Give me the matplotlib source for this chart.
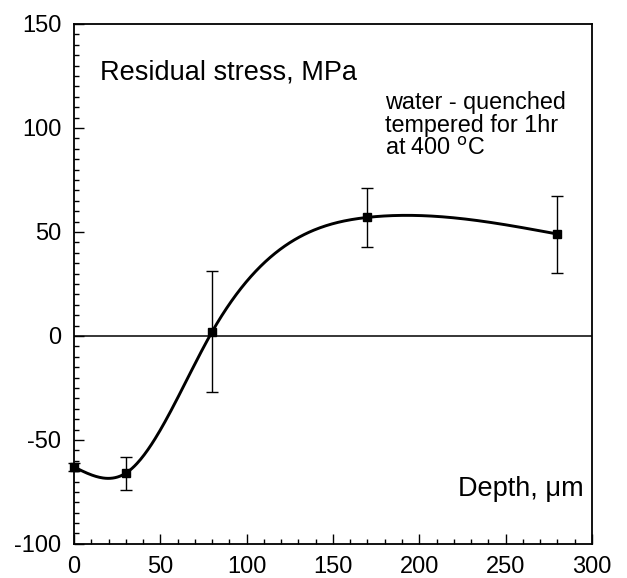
import numpy as np
import matplotlib
matplotlib.use("Agg")
import matplotlib.pyplot as plt
from matplotlib.ticker import MultipleLocator

# residual stress profile after quenching + tempering
depth = [0, 30, 80, 170, 280]
stress = [-63, -66, 2, 57, 49]
stress_err = [2, 8, 29, 14, 18.5]

x_ticks = [0, 50, 100, 150, 200, 250, 300]
y_ticks = [-100, -50, 0, 50, 100, 150]

plt.rcParams['font.family'] = ['Liberation Sans', 'DejaVu Sans']
plt.rcParams['axes.unicode_minus'] = False


def natural_spline(x, y, n=400):
    # natural cubic spline through the measured points
    x = np.asarray(x, float)
    y = np.asarray(y, float)
    k = len(x)
    h = np.diff(x)
    A = np.zeros((k, k))
    b = np.zeros(k)
    A[0, 0] = A[-1, -1] = 1.0
    for i in range(1, k - 1):
        A[i, i - 1] = h[i - 1]
        A[i, i] = 2 * (h[i - 1] + h[i])
        A[i, i + 1] = h[i]
        b[i] = 6 * ((y[i + 1] - y[i]) / h[i] - (y[i] - y[i - 1]) / h[i - 1])
    m = np.linalg.solve(A, b)
    xs = np.linspace(x[0], x[-1], n)
    idx = np.clip(np.searchsorted(x, xs) - 1, 0, k - 2)
    t0 = x[idx]
    t1 = x[idx + 1]
    hh = h[idx]
    ys = (m[idx] * (t1 - xs) ** 3 / (6 * hh) + m[idx + 1] * (xs - t0) ** 3 / (6 * hh)
          + (y[idx] / hh - m[idx] * hh / 6) * (t1 - xs)
          + (y[idx + 1] / hh - m[idx + 1] * hh / 6) * (xs - t0))
    return xs, ys


fig = plt.figure(figsize=(6.27, 5.78), dpi=100)
ax = fig.add_axes([0.118, 0.059, 0.826, 0.8995])

xs, ys = natural_spline(depth, stress)
ax.plot(xs, ys, color='black', lw=2.1, zorder=3)
ax.errorbar(depth, stress, yerr=stress_err, fmt='s', color='black', ms=6,
            elinewidth=1.0, capsize=4.5, capthick=1.0, zorder=4, clip_on=False)
ax.axhline(0, color='black', lw=1.1, zorder=2)

ax.set_xlim(0, 300)
ax.set_ylim(-100, 150)
ax.set_xticks(x_ticks)
ax.set_yticks(y_ticks)
ax.xaxis.set_minor_locator(MultipleLocator(10))
ax.yaxis.set_minor_locator(MultipleLocator(5))
ax.tick_params(which='both', direction='in', top=False, right=False,
               labelsize=17, width=1.0)
ax.tick_params(which='major', length=7)
ax.tick_params(which='minor', length=3.5)
ax.tick_params(axis='x', which='major', pad=8.5)
ax.tick_params(axis='y', which='major', pad=9)
for s in ax.spines.values():
    s.set_linewidth(1.3)

ax.text(0.05, 0.893, 'Residual stress, MPa', transform=ax.transAxes,
        fontsize=19.5, va='baseline', ha='left')
ax.text(0.985, 0.093, 'Depth, \u03bcm', transform=ax.transAxes,
        fontsize=19.5, va='baseline', ha='right')
ax.text(0.6, 0.872, 'water - quenched\ntempered for 1hr\nat 400 $^{\\mathrm{o}}$C',
        transform=ax.transAxes, fontsize=16.8, va='top', ha='left',
        linespacing=1.02)

fig.savefig('out.png', dpi=100)
